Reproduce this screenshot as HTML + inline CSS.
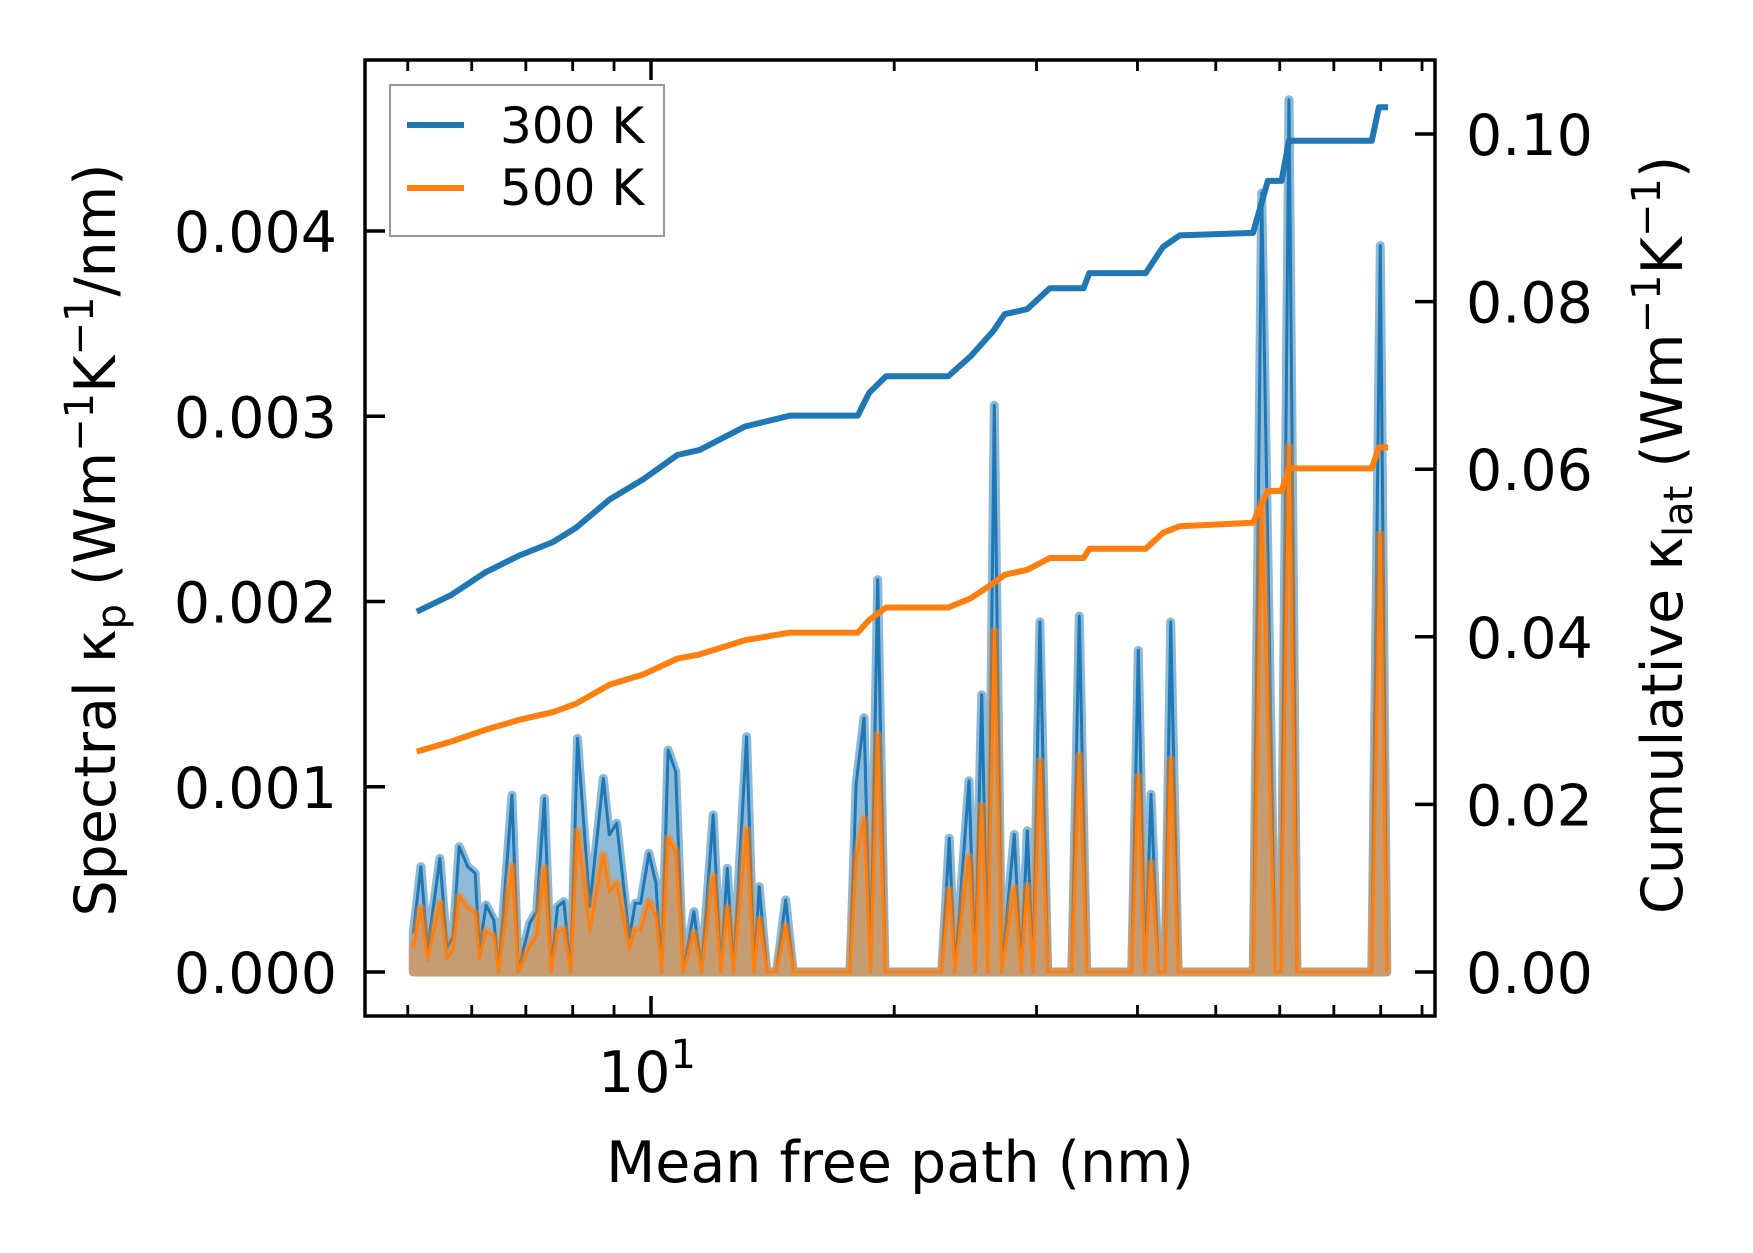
<!DOCTYPE html>
<html><head><meta charset="utf-8"><style>
html,body{margin:0;padding:0;background:#fff}
svg{display:block}
text{font-family:"DejaVu Sans","Liberation Sans",sans-serif;fill:#000}
</style></head><body>
<svg id="chart" width="1753" height="1253" viewBox="0 0 1753 1253" xmlns="http://www.w3.org/2000/svg">
<rect width="1753" height="1253" fill="#fff"/>
<g id="plot"></g>
<g id="axes"></g>
<g>
<rect x="390" y="85" width="274" height="151" fill="#fff" fill-opacity="0.8" stroke="#999" stroke-width="2"/>
<line x1="407" y1="125" x2="464" y2="125" stroke="#1f77b4" stroke-width="6"/>
<text x="500" y="143" font-size="50">300 K</text>
<line x1="407" y1="188" x2="464" y2="188" stroke="#ff7f0e" stroke-width="6"/>
<text x="500" y="205" font-size="50">500 K</text>
</g>
<text x="900" y="1182" font-size="57" text-anchor="middle">Mean free path (nm)</text>
<text transform="translate(115,540) rotate(-90)" font-size="57" text-anchor="middle">Spectral κ<tspan font-size="40" dy="10">p</tspan><tspan dy="-10"> (Wm</tspan><tspan font-size="40" dy="-22">−1</tspan><tspan dy="22">K</tspan><tspan font-size="40" dy="-22">−1</tspan><tspan dy="22">/nm)</tspan></text>
<text transform="translate(1682,535) rotate(-90)" font-size="57" text-anchor="middle">Cumulative κ<tspan font-size="40" dy="10">lat</tspan><tspan dy="-10"> (Wm</tspan><tspan font-size="40" dy="-22">−1</tspan><tspan dy="22">K</tspan><tspan font-size="40" dy="-22">−1</tspan><tspan dy="22">)</tspan></text>
</svg>
<script>
// ---- data ----
const mfp = [5.08,5.19,5.29,5.48,5.59,5.69,5.79,5.93,6.06,6.13,6.25,6.39,6.48,6.73,6.85,7.08,7.22,7.38,7.52,7.66,7.80,7.96,8.11,8.40,8.73,8.88,9.07,9.40,9.56,9.71,9.94,10.14,10.31,10.50,10.73,10.96,11.30,11.55,11.94,12.20,12.43,12.65,13.13,13.41,13.61,13.91,14.30,14.68,15.00,
17.63,17.94,18.35,18.70,19.08,19.48,22.90,23.40,23.78,24.75,25.18,25.66,26.11,26.60,27.16,28.16,28.70,29.22,29.72,30.29,30.97,33.17,33.89,34.61,39.35,40.10,40.87,41.57,42.45,43.26,43.97,44.93,55.65,57.0,59.2,60.2,61.6,63.0,78.0,79.9,81.4];
const spec300 = [0.209,0.569,0.119,0.614,0.128,0.191,0.677,0.569,0.533,0.119,0.362,0.281,0,0.955,0,0.264,0.326,0.937,0,0.353,0.380,0,1.261,0.353,1.045,0.740,0.803,0.182,0.371,0.371,0.641,0.479,0,1.198,1.081,0,0.326,0,0.848,0,0.560,0,1.270,0,0.461,0,0,0.389,0,
0,1.012,1.373,0,2.118,0,0,0.722,0,1.032,0,1.497,0,3.059,0,0.743,0,0.763,0,1.890,0,0,1.921,0,0,1.736,0,0.960,0,0,1.890,0,0,4.205,0,0,4.709,0,0,3.921,0].map(v=>v*1e-3);
const spec500 = [0.128,0.344,0.065,0.371,0.074,0.119,0.407,0.344,0.317,0.074,0.218,0.191,0,0.569,0,0.137,0.200,0.560,0,0.218,0.230,0,0.758,0.218,0.632,0.434,0.479,0.119,0.227,0.227,0.380,0.299,0,0.722,0.650,0,0.209,0,0.515,0,0.344,0,0.767,0,0.281,0,0,0.245,0,
0,0.598,0.825,0,1.280,0,0,0.443,0,0.619,0,0.898,0,1.839,0,0.453,0,0.463,0,1.136,0,0,1.167,0,0,1.053,0,0.587,0,0,1.146,0,0,2.535,0,0,2.835,0,0,2.362,0].map(v=>v*1e-3);
const cumMfp = [5.13,5.66,6.24,6.87,7.56,8.07,8.89,9.78,10.78,11.49,13.07,14.87,18.03,18.62,19.54,23.33,24.88,26.53,27.39,29.22,31.16,34.31,34.87,40.95,42.99,45.11,55.6,58.0,60.3,61.6,78.0,79.6,81.7];
const cum300 = [0.0430,0.0450,0.0477,0.0497,0.0513,0.0530,0.0564,0.0588,0.0617,0.0623,0.0651,0.0664,0.0664,0.0691,0.0711,0.0711,0.0735,0.0765,0.0785,0.0791,0.0816,0.0816,0.0834,0.0834,0.0865,0.0879,0.0882,0.0944,0.0944,0.0992,0.0992,0.1032,0.1032];
const cum500 = [0.0263,0.0275,0.0289,0.0301,0.0310,0.0320,0.0343,0.0355,0.0374,0.0379,0.0396,0.0405,0.0405,0.0420,0.0435,0.0435,0.0446,0.0464,0.0474,0.0480,0.0494,0.0494,0.0505,0.0505,0.0524,0.0532,0.0536,0.0574,0.0574,0.0601,0.0601,0.0626,0.0626];
const leftTicks = [0,0.001,0.002,0.003,0.004];
const leftTickLabels = ["0.000","0.001","0.002","0.003","0.004"];
const rightTicks = [0,0.02,0.04,0.06,0.08,0.10];
const rightTickLabels = ["0.00","0.02","0.04","0.06","0.08","0.10"];
const xMinorTicks = [5,6,7,8,9,20,30,40,50,60,70,80,90];

// ---- scales ----
const L=365,R=1435,T=60,B=1016;
const xs = v => 651 + 808*Math.log10(v/10);
const yl = v => 972 - v*185250;
const yr = v => 972 - v*8380;
const NS="http://www.w3.org/2000/svg";
const plot=document.getElementById('plot'), axes=document.getElementById('axes');
function mk(tag,parent,attrs){const e=document.createElementNS(NS,tag);for(const k in attrs)e.setAttribute(k,attrs[k]);parent.appendChild(e);return e;}

function spectral(vals,color,name){
  let pts=mfp.map((m,i)=>xs(m).toFixed(1)+','+yl(vals[i]).toFixed(1));
  const poly=[xs(mfp[0]).toFixed(1)+','+yl(0)].concat(pts,[xs(mfp[mfp.length-1]).toFixed(1)+','+yl(0)]);
  const g=mk('g',plot,{opacity:'0.5'});
  
  
  mk('polygon',g,{points:poly.join(' '),fill:color,stroke:color,'stroke-width':'9','stroke-linejoin':'round'});
  const l=mk('polyline',plot,{points:pts.join(' '),fill:'none',stroke:color,'stroke-width':'3','stroke-linejoin':'round'});
  
  
}
spectral(spec300,'#1f77b4','spectral-300k');
spectral(spec500,'#ff7f0e','spectral-500k');

function cum(vals,color,name){
  const pts=cumMfp.map((m,i)=>xs(m).toFixed(1)+','+yr(vals[i]).toFixed(1));
  const l=mk('polyline',plot,{points:pts.join(' '),fill:'none',stroke:color,'stroke-width':'6','stroke-linejoin':'round'});
  
  
}
cum(cum300,'#1f77b4','cumulative-300k-line');
cum(cum500,'#ff7f0e','cumulative-500k-line');

// spines
const sp=mk('rect',axes,{x:L,y:T,width:R-L,height:B-T,fill:'none',stroke:'#000','stroke-width':'3.5'});


leftTicks.forEach((v,i)=>{
  const y=yl(v);
  mk('line',axes,{x1:L,x2:L+20,y1:y,y2:y,stroke:'#000','stroke-width':'3.5'});
  const t=mk('text',axes,{x:337,y:y+21,'font-size':'57','text-anchor':'end'});
  t.textContent=leftTickLabels[i];
  
  
});
rightTicks.forEach((v,i)=>{
  const y=yr(v);
  mk('line',axes,{x1:R-20,x2:R,y1:y,y2:y,stroke:'#000','stroke-width':'3.5'});
  const t=mk('text',axes,{x:1466,y:y+21,'font-size':'57'});
  t.textContent=rightTickLabels[i];
  
  
});
[T,B].forEach(y0=>{
  const d=y0===T?1:-1;
  mk('line',axes,{x1:xs(10),x2:xs(10),y1:y0,y2:y0+d*20,stroke:'#000','stroke-width':'3.5'});
  xMinorTicks.forEach(v=>{const x=xs(v);mk('line',axes,{x1:x,x2:x,y1:y0,y2:y0+d*11,stroke:'#000','stroke-width':'2.8'});});
});
const xl=mk('text',axes,{x:xs(10)-4,y:1092,'font-size':'57','text-anchor':'middle'});
xl.innerHTML='10<tspan font-size="40" dy="-24">1</tspan>';


</script>
</body></html>
